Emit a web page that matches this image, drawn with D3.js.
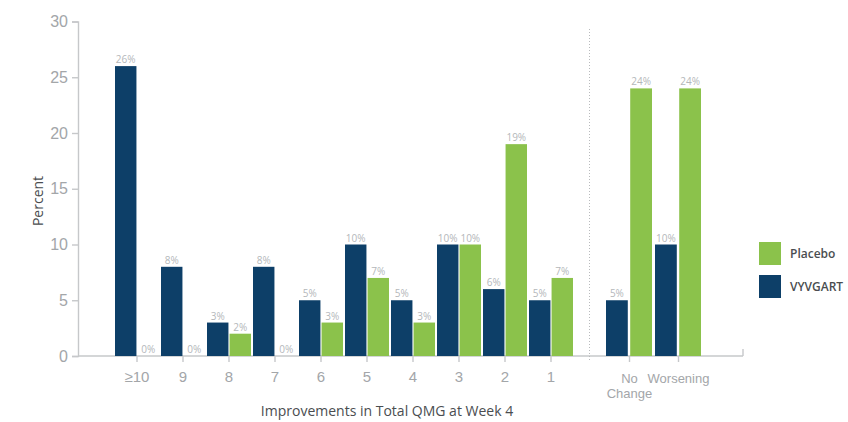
<!DOCTYPE html>
<html>
<head>
<meta charset="utf-8">
<script src="https://cdn.jsdelivr.net/npm/d3@7"></script>
<style>
  html, body { margin: 0; padding: 0; background: #fff; }
  svg { display: block; font-family: "Open Sans", "Noto Sans", sans-serif; }
</style>
</head>
<body>
<svg id="chart" width="848" height="422"></svg>
<script>
// Improvement categories (QMG points) and the two outcome columns
const improvementCats = ["≥10", "9", "8", "7", "6", "5", "4", "3", "2", "1"];
const vyvgartImprove = [26, 8, 3, 8, 5, 10, 5, 10, 6, 5];
const placeboImprove = [0, 0, 2, 0, 3, 7, 3, 10, 19, 7];

const outcomeCats = ["No Change", "Worsening"];
const vyvgartOutcome = [5, 10];
const placeboOutcome = [24, 24];

const seriesNames = ["VYVGART", "Placebo"];
const yTicks = [0, 5, 10, 15, 20, 25, 30];

const colors = { VYVGART: "#0d3f68", Placebo: "#8bc24b" };
const axisGray = "#c6c8ca";

const svg = d3.select("#chart");

const y = d3.scaleLinear().domain([0, 30]).range([356, 21.5]);

// Left block: improvements; right block: no change / worsening
const xLeft = d3.scaleBand().domain(improvementCats).range([114, 574]);
const xRight = d3.scaleBand().domain(outcomeCats).range([605, 703]);
const subLeft = d3.scaleBand().domain(seriesNames).range([1, 45]).paddingInner(0.05);
const subRight = d3.scaleBand().domain(seriesNames).range([1, 47]).paddingInner(0.1);

// Y axis
const yAxis = d3.axisLeft(y).tickValues(yTicks).tickSize(6).tickPadding(4);
const gy = svg.append("g").attr("transform", "translate(78,0)").call(yAxis);
gy.select(".domain").attr("stroke", axisGray).attr("stroke-width", 1.4);
gy.selectAll(".tick line").attr("stroke", axisGray).attr("stroke-width", 1.4);
gy.selectAll(".tick text").attr("fill", "#a3a6a9").attr("font-size", 16);

// Baseline along the bottom
svg.append("line")
  .attr("x1", 78).attr("x2", 743).attr("y1", y(0)).attr("y2", y(0))
  .attr("stroke", axisGray).attr("stroke-width", 1.4);
svg.append("line")
  .attr("x1", 743).attr("x2", 743).attr("y1", y(0)).attr("y2", y(0) - 7)
  .attr("stroke", axisGray).attr("stroke-width", 1.4);

// Bottom axes for both blocks
function styleX(g) {
  g.select(".domain").remove();
  g.selectAll(".tick line").attr("stroke", axisGray).attr("stroke-width", 1.4);
  g.selectAll(".tick text").attr("fill", "#a3a6a9");
}
const gxL = svg.append("g").attr("transform", `translate(0,${y(0)})`)
  .call(d3.axisBottom(xLeft).tickSize(6).tickPadding(9)).call(styleX);
gxL.selectAll(".tick text").attr("font-size", 15);

const gxR = svg.append("g").attr("transform", `translate(0,${y(0)})`)
  .call(d3.axisBottom(xRight).tickSize(6).tickPadding(12).tickFormat(() => "")).call(styleX);
gxR.selectAll(".tick").each(function(d) {
  const t = d3.select(this).select("text").attr("font-size", 13);
  const words = d.split(" ");
  words.forEach((w, i) => {
    t.append("tspan").attr("x", 0).attr("dy", i === 0 ? "0.71em" : "1.15em").text(w);
  });
  t.attr("dy", null);
});

// Dotted separator between the two blocks
const sepX = 589.5;
svg.append("line")
  .attr("x1", sepX).attr("x2", sepX).attr("y1", 29).attr("y2", y(0) + 6)
  .attr("stroke", "#b8babc").attr("stroke-width", 1).attr("stroke-dasharray", "1,2");

// Bars and value labels
function drawBlock(xScale, sub, cats, vyv, pla) {
  const rows = [];
  cats.forEach((c, i) => {
    rows.push({ cat: c, series: "VYVGART", value: vyv[i] });
    rows.push({ cat: c, series: "Placebo", value: pla[i] });
  });
  const g = svg.append("g");
  g.selectAll("rect").data(rows.filter(d => d.value > 0)).join("rect")
    .attr("x", d => xScale(d.cat) + sub(d.series))
    .attr("width", sub.bandwidth())
    .attr("y", d => y(d.value))
    .attr("height", d => y(0) - y(d.value))
    .attr("fill", d => colors[d.series]);
  g.selectAll("text").data(rows).join("text")
    .attr("x", d => xScale(d.cat) + sub(d.series) + sub.bandwidth() / 2)
    .attr("y", d => y(d.value) - 3)
    .attr("text-anchor", "middle")
    .attr("font-size", 10)
    .attr("fill", "#b4b7ba")
    .text(d => d.value + "%");
}
drawBlock(xLeft, subLeft, improvementCats, vyvgartImprove, placeboImprove);
drawBlock(xRight, subRight, outcomeCats, vyvgartOutcome, placeboOutcome);

// Axis titles
svg.append("text")
  .attr("x", 387).attr("y", 416)
  .attr("text-anchor", "middle").attr("font-size", 14).attr("fill", "#4a4d50")
  .text("Improvements in Total QMG at Week 4");
svg.append("text")
  .attr("transform", "translate(43,201) rotate(-90)")
  .attr("text-anchor", "middle").attr("font-size", 14).attr("fill", "#4a4d50")
  .text("Percent");

// Legend
const legendItems = ["Placebo", "VYVGART"];
const lg = svg.append("g").attr("transform", "translate(759,242)");
const li = lg.selectAll("g").data(legendItems).join("g")
  .attr("transform", (d, i) => `translate(0,${i * 33})`);
li.append("rect").attr("width", 22).attr("height", 23).attr("fill", d => colors[d]);
li.append("text").attr("x", 31).attr("y", 16)
  .attr("font-size", 12).attr("font-weight", 600).attr("fill", "#4a4d50")
  .text(d => d);
</script>
</body>
</html>
